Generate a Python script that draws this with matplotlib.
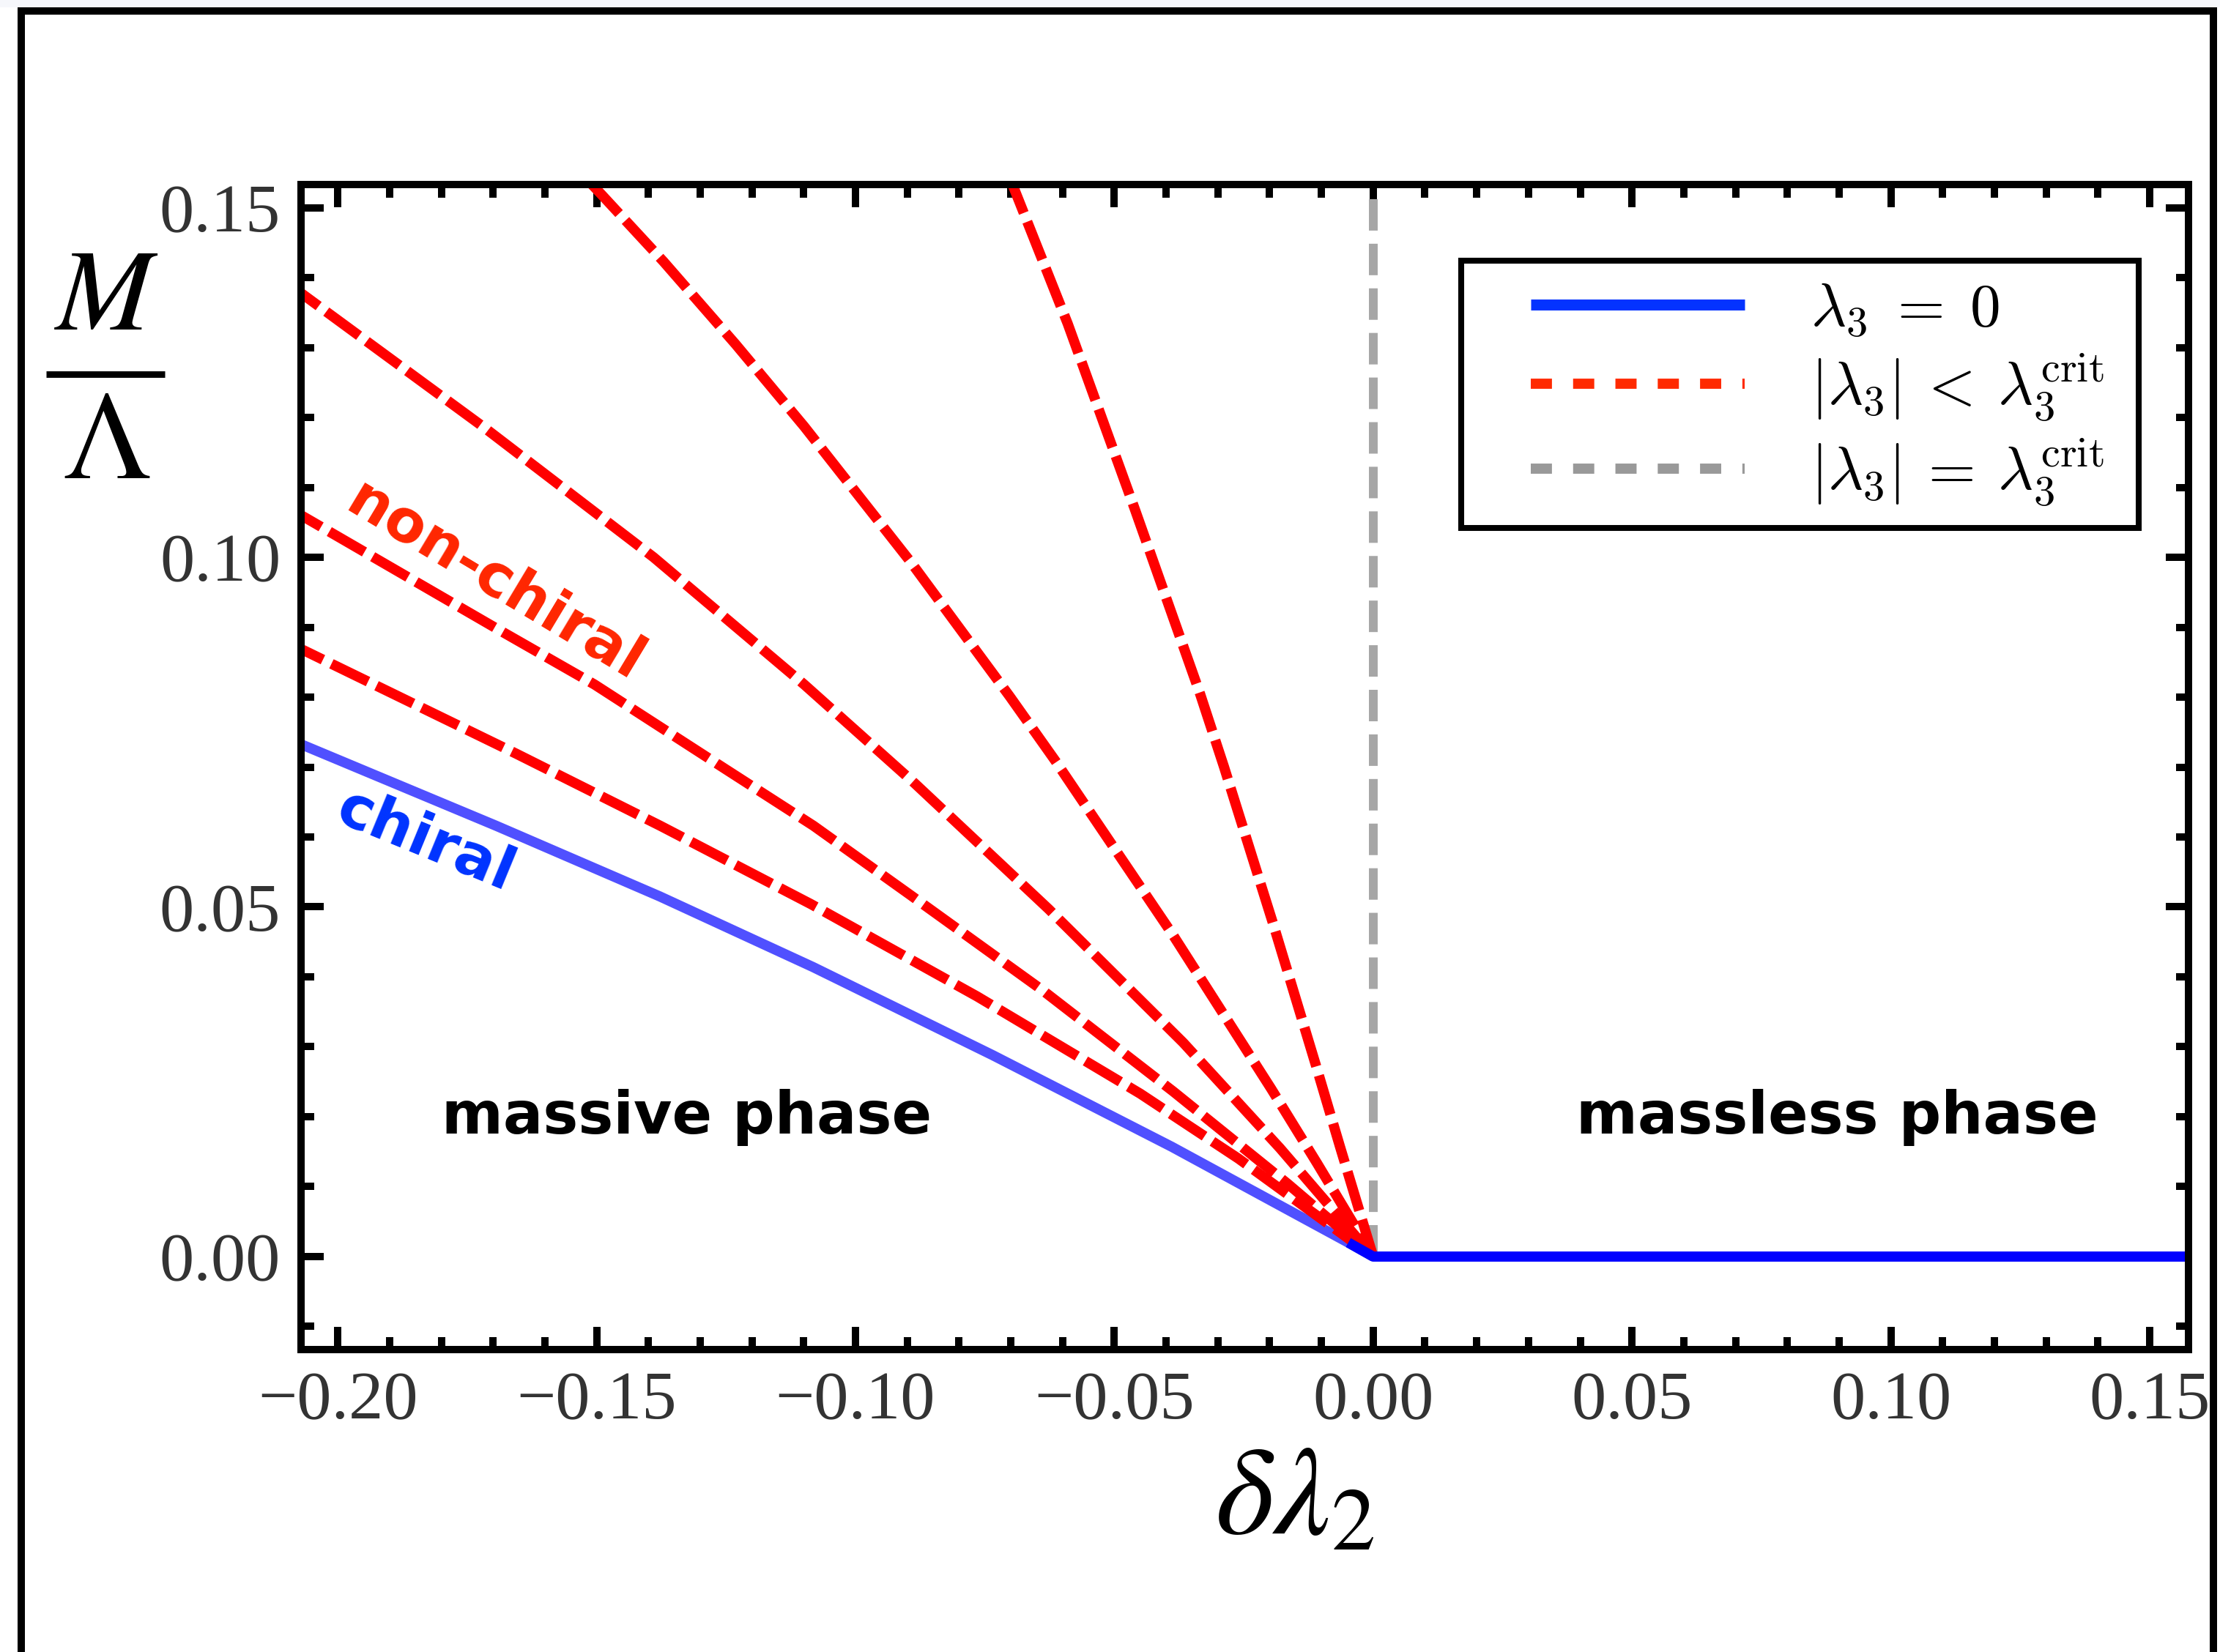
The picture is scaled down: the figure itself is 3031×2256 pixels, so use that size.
import matplotlib
matplotlib.use('Agg')
import matplotlib.pyplot as plt
from matplotlib.patches import Rectangle
from matplotlib.lines import Line2D
from matplotlib.font_manager import FontProperties
from matplotlib.ticker import MultipleLocator, FuncFormatter

# ---------------- data ----------------
# chiral curve (lambda_3 = 0) in the massive phase
chiral_x = [-0.21, -0.2066, -0.1694, -0.1378, -0.1082, -0.0735, -0.0389, -0.0048, 0.0]
chiral_y = [0.0741, 0.0731, 0.0616, 0.0515, 0.0414, 0.0288, 0.0157, 0.0020, 0.0]
# massless phase (M = 0)
massless_x = [0.0, 0.16]
massless_y = [0.0, 0.0]
# critical line |lambda_3| = lambda_3^crit
crit_x = [0.0, 0.0]
crit_y = [0.0, 0.16]
# non-chiral curves |lambda_3| < lambda_3^crit
nc1_x = [-0.21, -0.2066, -0.1655, -0.1377, -0.1086, -0.0765, -0.045, -0.026, 0.0]
nc1_y = [0.0878, 0.0867, 0.0719, 0.0616, 0.0504, 0.0372, 0.0233, 0.0140, 0.0]
nc2_x = [-0.21, -0.2066, -0.1693, -0.1504, -0.1251, -0.1081, -0.0892, -0.0639, -0.0386, -0.0165, 0.0]
nc2_y = [0.1073, 0.1058, 0.0898, 0.0818, 0.0697, 0.0616, 0.0516, 0.0381, 0.0236, 0.0104, 0.0]
nc3_x = [-0.21, -0.2066, -0.1718, -0.139, -0.1099, -0.0886, -0.0627, -0.0367, -0.018, 0.0]
nc3_y = [0.1394, 0.1375, 0.1186, 0.1000, 0.0818, 0.0677, 0.0497, 0.0306, 0.0155, 0.0]
nc4_x = [-0.1577, -0.1491, -0.1371, -0.1232, -0.1099, -0.0892, -0.0702, -0.0614, -0.0386, -0.0197, -0.0108, 0.0]
nc4_y = [0.1586, 0.1519, 0.1423, 0.1305, 0.1187, 0.0992, 0.0801, 0.0709, 0.0459, 0.0240, 0.0133, 0.0]
nc5_x = [-0.074, -0.0694, -0.059, -0.046, -0.0334, -0.0288, -0.0192, -0.011, -0.0064, 0.0]
nc5_y = [0.1613, 0.1528, 0.1334, 0.1068, 0.0804, 0.0700, 0.0473, 0.0272, 0.0157, 0.0]
noncritical_curves = [(nc1_x, nc1_y), (nc2_x, nc2_y), (nc3_x, nc3_y),
                      (nc4_x, nc4_y), (nc5_x, nc5_y)]

legend_labels = [r'$\lambda_3 \;=\; 0$',
                 r'$|\lambda_3| \:<\: \lambda_3^{\mathrm{crit}}$',
                 r'$|\lambda_3| \:=\: \lambda_3^{\mathrm{crit}}$']

# ---------------- figure ----------------
plt.rcParams['font.family'] = ['Liberation Serif', 'DejaVu Serif']
plt.rcParams['mathtext.fontset'] = 'stix'

W, H, DPI = 3031, 2256, 200
fig = plt.figure(figsize=(W / DPI, H / DPI), dpi=DPI)
fig.patch.set_facecolor('white')

# light strip at the very top and the outer black frame
fig.add_artist(Rectangle((0, 1 - 10 / H), 1, 10 / H, transform=fig.transFigure,
                         facecolor='#f6f7fb', edgecolor='none', zorder=0))
fig.add_artist(Rectangle((29 / W, -0.1), (3022 - 29) / W, (1 - 15 / H) + 0.1,
                         transform=fig.transFigure, fill=False,
                         edgecolor='black', lw=3.6, zorder=1))

ax = fig.add_axes([411 / W, 1 - 1843 / H, (2988 - 411) / W, (1843 - 252) / H])
ax.set_xlim(-0.2071, 0.1575)
ax.set_ylim(-0.0133, 0.1533)

# curves
ax.plot(chiral_x, chiral_y, color='#5050ff', lw=5.0, solid_capstyle='butt',
        solid_joinstyle='round', zorder=2.0)
ax.plot(crit_x, crit_y, color='#a6a6a6', lw=4.3, linestyle=(0, (3.6, 1.5)),
        dash_capstyle='butt', zorder=2.1)
for cx, cy in noncritical_curves:
    ax.plot(cx, cy, color='#ff0000', lw=5.0, linestyle=(0, (4.0, 0.93)),
            dash_capstyle='butt', zorder=2.2)
ax.plot(chiral_x[-2:] + massless_x[1:], chiral_y[-2:] + massless_y[1:],
        color='#0000ff', lw=5.0, solid_capstyle='butt', zorder=2.3)

# frame / ticks
for sp in ax.spines.values():
    sp.set_linewidth(3.6)
    sp.set_zorder(3)
ax.xaxis.set_major_locator(MultipleLocator(0.05))
ax.xaxis.set_minor_locator(MultipleLocator(0.01))
ax.yaxis.set_major_locator(MultipleLocator(0.05))
ax.yaxis.set_minor_locator(MultipleLocator(0.01))


def fmt(v, pos):
    if abs(v) < 1e-9:
        v = 0.0
    return f"{v:.2f}".replace('-', '\u2212')


ax.xaxis.set_major_formatter(FuncFormatter(fmt))
ax.yaxis.set_major_formatter(FuncFormatter(fmt))
ax.tick_params(which='both', direction='in', top=True, right=True,
               width=3.6, color='black')
ax.tick_params(which='major', length=11)
ax.tick_params(which='minor', length=6.3)
ax.tick_params(axis='x', which='major', labelsize=34, labelcolor='#333333', pad=10.5)
ax.tick_params(axis='y', which='major', labelsize=34, labelcolor='#333333', pad=10)

# annotations
ax.text(-0.1697, 0.0964, 'non-chiral', rotation=-31, rotation_mode='anchor',
        ha='center', va='center', color='#ff2600', fontsize=29,
        fontweight='bold', family='DejaVu Sans', zorder=4)
ax.text(-0.1830, 0.0594, 'chiral', rotation=-22.4, rotation_mode='anchor',
        ha='center', va='center', color='#0033ff', fontsize=29,
        fontweight='bold', family='DejaVu Sans', zorder=4)
ax.text(-0.1326, 0.0176, 'massive phase', ha='center', va='baseline',
        color='black', fontsize=29, fontweight='bold', family='DejaVu Sans', zorder=4)
ax.text(0.0896, 0.0176, 'massless phase', ha='center', va='baseline',
        color='black', fontsize=29, fontweight='bold', family='DejaVu Sans', zorder=4)

# y label as a stacked fraction M / Lambda
fig.text(145 / W, 1 - 450 / H, r'$M$', ha='center', va='baseline',
         fontsize=57, color='black')
fig.add_artist(Line2D([63 / W, 225 / W], [1 - 511 / H, 1 - 511 / H],
                      transform=fig.transFigure, color='black', lw=3.2,
                      solid_capstyle='butt'))
fig.text(145 / W, 1 - 653 / H, r'$\Lambda$', ha='center', va='baseline',
         fontsize=62, color='black')
# x label
fig.text(1768 / W, 1 - 2094 / H, r'$\delta\lambda_2$', ha='center', va='baseline',
         fontsize=62, color='black')

# legend
handles = [Line2D([], [], color='#0433ff', lw=5.4, solid_capstyle='butt'),
           Line2D([], [], color='#ff2a00', lw=5.0, linestyle=(0, (2.08, 2.08)),
                  dash_capstyle='butt'),
           Line2D([], [], color='#999999', lw=5.0, linestyle=(0, (2.08, 2.08)),
                  dash_capstyle='butt')]
leg = fig.legend(handles, legend_labels, loc='upper left',
                 bbox_to_anchor=(2090 / W, 1 - 385 / H),
                 bbox_transform=fig.transFigure, borderaxespad=0, borderpad=0,
                 prop=FontProperties(size=30, math_fontfamily='cm'),
                 handlelength=3.5, handletextpad=1.08,
                 labelspacing=0.22, frameon=False)
fig.add_artist(Rectangle((1995 / W, 1 - 721 / H), (2920 - 1995) / W, (721 - 356) / H,
                         transform=fig.transFigure, fill=False,
                         edgecolor='black', lw=2.9, zorder=5))

fig.savefig('out.png', dpi=DPI)
